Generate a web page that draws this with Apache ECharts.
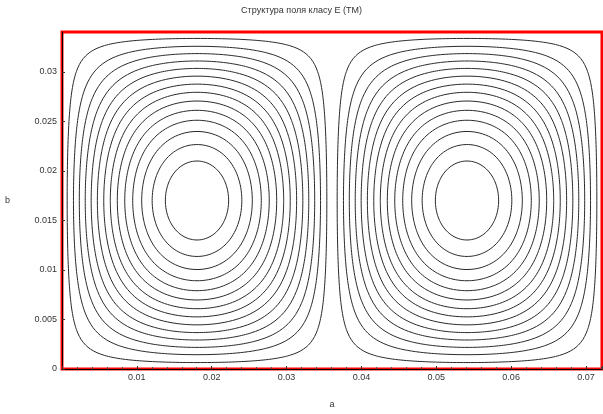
<!DOCTYPE html>
<html>
<head>
<meta charset="utf-8">
<script src="https://cdn.jsdelivr.net/npm/echarts@6/dist/echarts.min.js"></script>
<style>html,body{margin:0;padding:0;background:#fff;}#c{width:603px;height:414px;}</style>
</head>
<body>
<div id="c"></div>
<script>
var guideA = 0.07214;
var guideB = 0.03404;
var levels = [0.06, 0.133, 0.2, 0.267, 0.333, 0.4, 0.467, 0.533, 0.6, 0.667, 0.733, 0.8, 0.867, 0.933];
// Field cells across the broad wall (TM21: two cells)
var cells = [0, 1];
var xTicks = [0.01, 0.02, 0.03, 0.04, 0.05, 0.06, 0.07];
var yTicks = [0, 0.005, 0.01, 0.015, 0.02, 0.025, 0.03];
var titleText = 'Структура поля класу E (TM)';

function contour(level, cell) {
  var N = 90, pts = [];
  var x0 = cell * guideA / 2;
  function q(t) {
    var th = t * Math.PI / 2;
    var p = Math.sin(th) * Math.sin(th);
    var u = Math.pow(level, p), v = Math.pow(level, 1 - p);
    return [guideA / (2 * Math.PI) * Math.asin(Math.min(1, u)), guideB / Math.PI * Math.asin(Math.min(1, v))];
  }
  var i, d;
  for (i = 0; i <= N; i++) { d = q(i / N); pts.push([x0 + d[0], d[1]]); }
  for (i = N; i >= 0; i--) { d = q(i / N); pts.push([x0 + d[0], guideB - d[1]]); }
  for (i = 0; i <= N; i++) { d = q(i / N); pts.push([x0 + guideA / 2 - d[0], guideB - d[1]]); }
  for (i = N; i >= 0; i--) { d = q(i / N); pts.push([x0 + guideA / 2 - d[0], d[1]]); }
  return pts;
}

var series = [];
cells.forEach(function (c) {
  levels.forEach(function (L) {
    series.push({
      type: 'line', data: contour(L, c), showSymbol: false, symbol: 'none',
      lineStyle: { color: '#2a2a2a', width: 1 }, silent: true, animation: false, z: 2
    });
  });
});

function fmt(v) {
  var r = Math.round(v * 1000) / 1000;
  return String(r);
}

var chart = echarts.init(document.getElementById('c'), null, { renderer: 'canvas' });
chart.setOption({
  animation: false,
  backgroundColor: '#fff',
  title: {
    text: titleText, left: 'center', top: 1,
    textStyle: { fontFamily: 'Liberation Sans', fontSize: 9, fontWeight: 'normal', color: '#333' }
  },
  grid: { left: 62, right: 1, top: 32, bottom: 43, show: true, borderColor: '#ff0000', borderWidth: 3, backgroundColor: 'transparent' },
  xAxis: {
    type: 'value', min: 0, max: guideA, interval: 0.01,
    name: 'a', nameLocation: 'middle', nameGap: 31,
    nameTextStyle: { fontFamily: 'Liberation Sans', fontSize: 9, color: '#333' },
    axisLine: { show: true, lineStyle: { color: '#000', width: 1 } },
    axisTick: { show: true, inside: true, length: 3, lineStyle: { color: '#333' } },
    minorTick: { show: true, splitNumber: 5, length: 2, lineStyle: { color: '#555' } },
    splitLine: { show: false },
    axisLabel: {
      margin: 4, fontFamily: 'Liberation Sans', fontSize: 9, color: '#333',
      showMinLabel: false, showMaxLabel: false,
      formatter: function (v) { var s = fmt(v); return xTicks.indexOf(+s) >= 0 ? s : ''; }
    }
  },
  yAxis: {
    type: 'value', min: 0, max: guideB, interval: 0.005,
    name: 'b', nameLocation: 'middle', nameGap: 52, nameRotate: 0,
    nameTextStyle: { fontFamily: 'Liberation Sans', fontSize: 9, color: '#333' },
    axisLine: { show: true, lineStyle: { color: '#000', width: 1 } },
    axisTick: { show: true, inside: true, length: 3, lineStyle: { color: '#333' } },
    splitLine: { show: false },
    axisLabel: {
      margin: 5, fontFamily: 'Liberation Sans', fontSize: 9, color: '#333',
      showMaxLabel: false,
      formatter: function (v) { var s = fmt(v); return yTicks.indexOf(+s) >= 0 ? s : ''; }
    }
  },
  series: series
});
</script>
</body>
</html>
